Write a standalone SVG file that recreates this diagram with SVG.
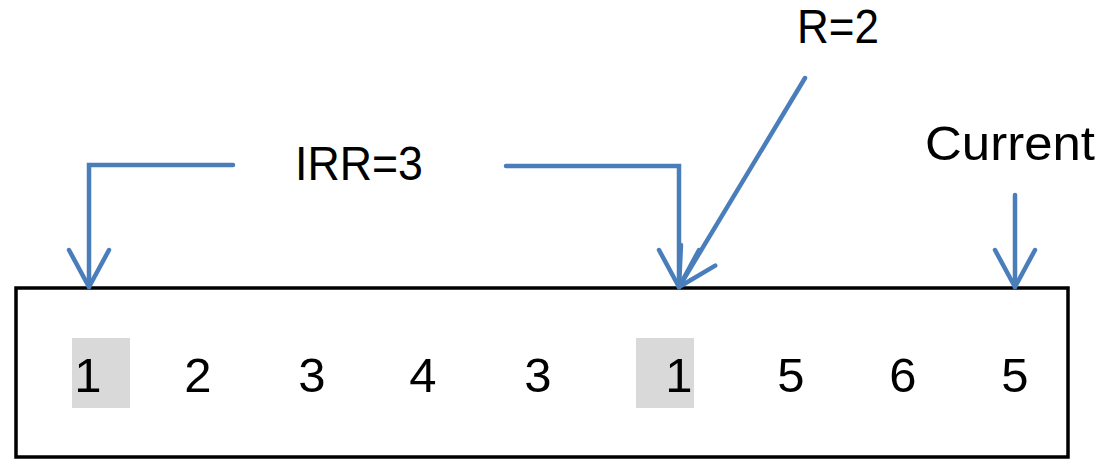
<svg xmlns="http://www.w3.org/2000/svg" width="1109" height="465" viewBox="0 0 1109 465">
  <style>
    .lbl { font-family: "Liberation Sans", Arial, sans-serif; font-size: 49px; fill: #000; }
    .num { font-family: "Liberation Sans", Arial, sans-serif; font-size: 49px; fill: #000; text-anchor: middle; }
    .conn { fill: none; stroke: #4a7ebb; stroke-width: 4.5; stroke-linecap: round; stroke-linejoin: miter; marker-end: url(#open); }
    .hl { fill: #d9d9d9; }
  </style>
  <defs>
    <marker id="open" markerUnits="userSpaceOnUse" viewBox="-42 -26 48 52" refX="0" refY="0" markerWidth="48" markerHeight="52" orient="auto">
      <path d="M-37,-20 L0,0 L-37,20" fill="none" stroke="#4a7ebb" stroke-width="4.5" stroke-linecap="round" stroke-linejoin="round"/>
    </marker>
  </defs>
  <rect width="1109" height="465" fill="#fff"/>

  <g id="array">
    <rect x="16" y="288" width="1052" height="169" fill="none" stroke="#000" stroke-width="3.5"/>
    <rect class="hl" x="72" y="338" width="58" height="70"/>
    <rect class="hl" x="636" y="338" width="58" height="70"/>
    <text class="num" x="88" y="392">1</text>
    <text class="num" x="198" y="392">2</text>
    <text class="num" x="312" y="392">3</text>
    <text class="num" x="423" y="392">4</text>
    <text class="num" x="538" y="392">3</text>
    <text class="num" x="679" y="392">1</text>
    <text class="num" x="791" y="392">5</text>
    <text class="num" x="903" y="392">6</text>
    <text class="num" x="1015" y="392">5</text>
  </g>

  <g id="label-irr">
    <text class="lbl" x="295" y="180" textLength="128" lengthAdjust="spacingAndGlyphs">IRR=3</text>
  </g>
  <g id="label-r">
    <text class="lbl" x="797" y="43" textLength="82" lengthAdjust="spacingAndGlyphs">R=2</text>
  </g>
  <g id="label-current">
    <text class="lbl" x="925" y="160" textLength="170" lengthAdjust="spacingAndGlyphs">Current</text>
  </g>

  <g id="connectors">
    <path class="conn" d="M233,165 H89 V287"/>
    <path class="conn" d="M506,166 H679 V287"/>
    <path class="conn" d="M805,78 L679,287"/>
    <path class="conn" d="M1015,195 V287"/>
  </g>
</svg>
